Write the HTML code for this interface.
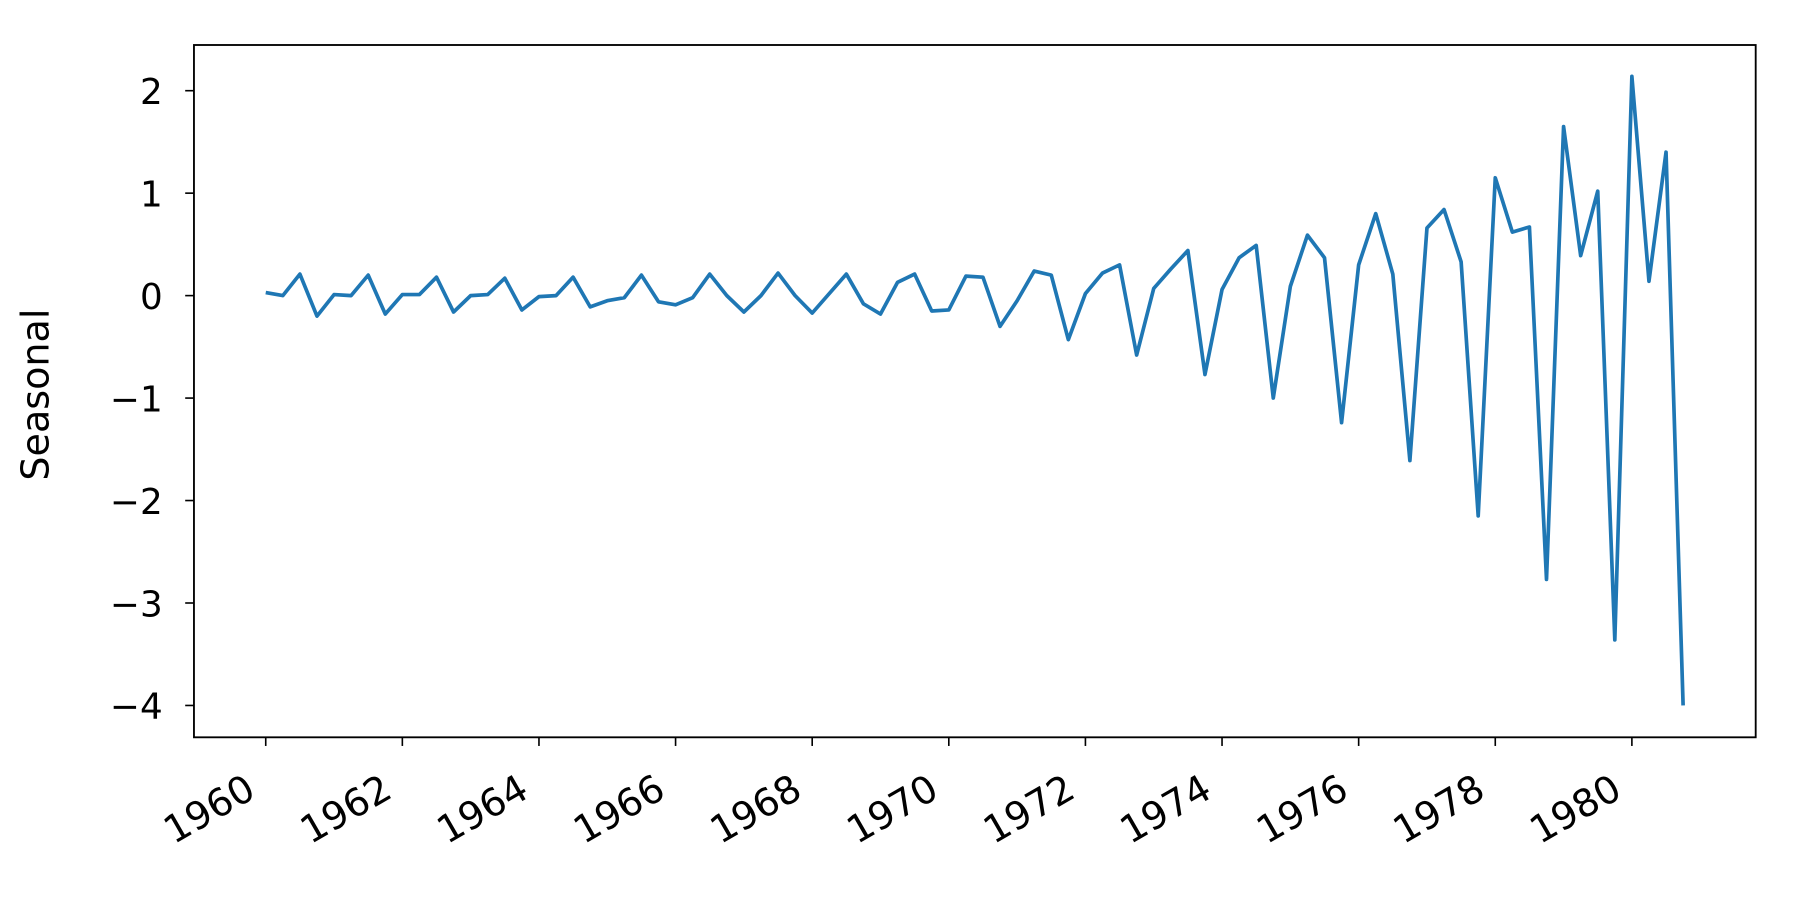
<!DOCTYPE html>
<html><head><meta charset="utf-8"><style>
html,body{margin:0;padding:0;background:#fff;}
svg{display:block;}
text{font-family:"DejaVu Sans","Liberation Sans",sans-serif;fill:#000;}
</style></head><body>
<svg id="chart" width="1800" height="900" viewBox="0 0 1560 780" xmlns="http://www.w3.org/2000/svg">
<rect x="0" y="0" width="1560" height="780" fill="#fff"/>
<path id="series" fill="none" stroke="#1f77b4" stroke-width="3.2" stroke-linejoin="round" stroke-linecap="butt"/>
<rect x="168.1" y="39" width="1353.5" height="600" fill="none" stroke="#000" stroke-width="1.6"/>
<g id="axes"></g>
<text transform="translate(42,342) rotate(-90)" text-anchor="middle" font-size="33">Seasonal</text>
</svg>
<script>
const startYear = 1960;
const seasonalValues = [0.03,0.0,0.21,-0.2,0.01,0.0,0.2,-0.18,0.01,0.01,0.18,-0.16,0.0,0.01,0.17,-0.14,-0.01,0.0,0.18,-0.11,-0.05,-0.02,0.2,-0.06,-0.09,-0.02,0.21,0.0,-0.16,0.0,0.22,0.0,-0.17,0.02,0.21,-0.08,-0.18,0.13,0.21,-0.15,-0.14,0.19,0.18,-0.3,-0.05,0.24,0.2,-0.43,0.02,0.22,0.3,-0.58,0.07,0.26,0.44,-0.77,0.06,0.37,0.49,-1.0,0.09,0.59,0.37,-1.24,0.3,0.8,0.21,-1.61,0.66,0.84,0.33,-2.15,1.15,0.62,0.67,-2.77,1.65,0.39,1.02,-3.36,2.14,0.14,1.4,-4.0];
const yTicks = [2,1,0,-1,-2,-3,-4];
const xTicks = [1960,1962,1964,1966,1968,1970,1972,1974,1976,1978,1980];

function xScale(yr){ return 230.3 + (yr-1960)*59.2; }
function yScale(v){ return 256.2 - v*88.8; }

const NS = "http://www.w3.org/2000/svg";
const axes = document.getElementById('axes');
let d = "";
seasonalValues.forEach((v,i)=>{
  const x = xScale(startYear + i/4), y = yScale(v);
  d += (i? "L":"M") + x.toFixed(2) + " " + y.toFixed(2);
});
document.getElementById('series').setAttribute('d', d);

yTicks.forEach(t=>{
  const y = yScale(t);
  const ln = document.createElementNS(NS,'line');
  ln.setAttribute('x1',160.5); ln.setAttribute('x2',168.1);
  ln.setAttribute('y1',y); ln.setAttribute('y2',y);
  ln.setAttribute('stroke','#000'); ln.setAttribute('stroke-width','1.4');
  
  
  axes.appendChild(ln);
  const tx = document.createElementNS(NS,'text');
  tx.setAttribute('x',141); tx.setAttribute('y',y+11.5);
  tx.setAttribute('text-anchor','end'); tx.setAttribute('font-size','31');
  tx.textContent = t<0 ? '\u2212'+Math.abs(t) : String(t);
  
  
  axes.appendChild(tx);
});
xTicks.forEach(t=>{
  const x = xScale(t);
  const ln = document.createElementNS(NS,'line');
  ln.setAttribute('x1',x); ln.setAttribute('x2',x);
  ln.setAttribute('y1',639); ln.setAttribute('y2',646.5);
  ln.setAttribute('stroke','#000'); ln.setAttribute('stroke-width','1.4');
  
  
  axes.appendChild(ln);
  const tx = document.createElementNS(NS,'text');
  tx.setAttribute('transform','translate('+(x-7)+',690) rotate(-30)');
  tx.setAttribute('text-anchor','end'); tx.setAttribute('font-size','33');
  tx.textContent = String(t);
  
  
  axes.appendChild(tx);
});
</script>
</body></html>
